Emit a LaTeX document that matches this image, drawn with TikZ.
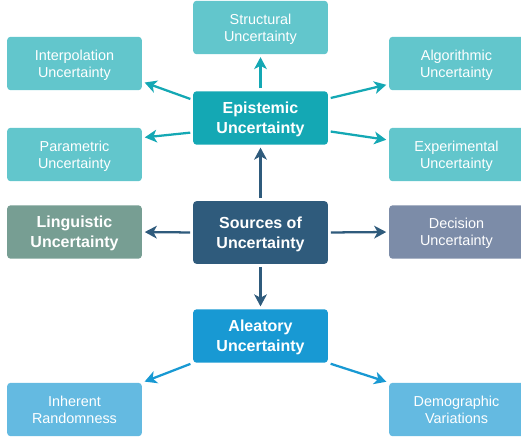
\documentclass[tikz,border=0pt]{standalone}
\usepackage{fontspec}
\setmainfont{Liberation Sans}
\usetikzlibrary{arrows.meta}
\definecolor{leafteal}{HTML}{62C6CC}
\definecolor{epiteal}{HTML}{14A8B4}
\definecolor{srcblue}{HTML}{2F5B7C}
\definecolor{lingreen}{HTML}{779E93}
\definecolor{decgray}{HTML}{7C8CA8}
\definecolor{aleblue}{HTML}{1899D3}
\definecolor{leafblue}{HTML}{64BAE1}
\tikzset{
  box/.style={rounded corners=2.5pt,minimum width=101pt,minimum height=40pt,
    align=center,text=white,inner sep=2pt,text depth=0pt,
    font=\fontsize{10.8}{12.8}\selectfont},
  hub/.style={box,font=\bfseries\fontsize{12}{15}\selectfont},
  link/.style={-{Stealth[length=9pt,width=9.5pt,inset=2.5pt]},line width=1.7pt,
    shorten >=2pt,shorten <=2pt}
}

\begin{document}
\begin{tikzpicture}[x=0.75pt,y=-0.75pt]
    \useasboundingbox (0,0) rectangle (521,439);

    % epistemic branch
    \node[hub,fill=epiteal] (epi) at (260.5,118) {Epistemic\\Uncertainty};
    \node[box,fill=leafteal] (struct) at (260.5,27.5) {Structural\\Uncertainty};
    \node[box,fill=leafteal] (interp) at (74.5,63.5) {Interpolation\\Uncertainty};
    \node[box,fill=leafteal] (algo) at (456.5,63.5) {Algorithmic\\Uncertainty};
    \node[box,fill=leafteal] (param) at (74.5,154.5) {Parametric\\Uncertainty};
    \node[box,fill=leafteal] (exper) at (456.5,154.5) {Experimental\\Uncertainty};

    % centre row
    \node[hub,fill=srcblue,minimum height=47pt] (src) at (260.5,232.5) {Sources of\\Uncertainty};
    \node[hub,fill=lingreen] (ling) at (74.5,232) {Linguistic\\Uncertainty};
    \node[box,fill=decgray] (dec) at (456.5,232) {Decision\\Uncertainty};

    % aleatory branch
    \node[hub,fill=aleblue] (ale) at (260.5,336) {Aleatory\\Uncertainty};
    \node[box,fill=leafblue] (inher) at (74.5,409.5) {Inherent\\Randomness};
    \node[box,fill=leafblue] (demo) at (456.5,409.5) {Demographic\\Variations};

    \draw[link,epiteal] (epi.north) -- (struct.south);
    \draw[link,epiteal] (epi.165) -- (interp.-15);
    \draw[link,epiteal] (epi.192) -- (param.14);
    \draw[link,epiteal] (epi.16) -- (algo.197);
    \draw[link,epiteal] (epi.-11) -- (exper.168);

    \draw[link,srcblue] (src.north) -- (epi.south);
    \draw[link,srcblue] (src.west) -- (ling.east);
    \draw[link,srcblue] (src.east) -- (dec.west);
    \draw[link,srcblue] (src.south) -- (ale.north);

    \draw[link,aleblue] (ale.south west) -- (inher.north east);
    \draw[link,aleblue] (ale.south east) -- (demo.north west);
\end{tikzpicture}
\end{document}
